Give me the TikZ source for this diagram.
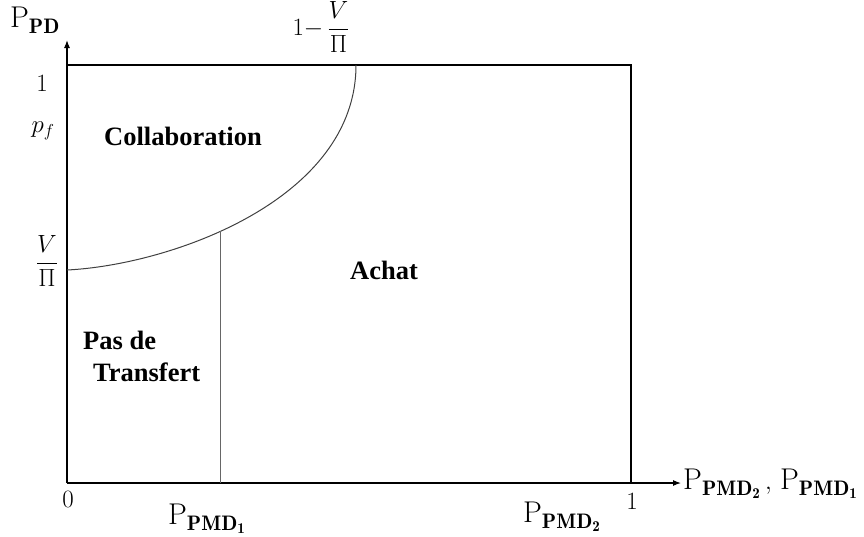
\documentclass[tikz,border=0pt]{standalone}
\usepackage{amsmath}
\usepackage{fontspec}
\newfontfamily\regionfont{Liberation Serif}
\usetikzlibrary{arrows.meta}
\begin{document}
\begin{tikzpicture}[x=1pt,y=-1pt,
  axis/.style={line width=1.1pt,-{Latex[length=8pt,width=6pt]}},
  frame/.style={line width=1.1pt},
  divider/.style={line width=1pt,draw=black!60},
  region/.style={font=\regionfont\bfseries\fontsize{26.5}{30}\selectfont,inner sep=0pt},
  ticklab/.style={font=\fontsize{25}{29}\selectfont,inner sep=0pt},
  axislab/.style={font=\fontsize{30}{34}\selectfont,inner sep=0pt}]
\useasboundingbox (0,0) rectangle (864,536);
% key points
\coordinate (O) at (67,483);
\coordinate (ytop) at (67,40);
\coordinate (xend) at (681,483);
\coordinate (TL) at (67,65);
\coordinate (TR) at (631,65);
\coordinate (BR) at (631,483);
\coordinate (cstart) at (67,270);
\coordinate (cend) at (356,65);
\coordinate (vbot) at (220,483);
\coordinate (vtop) at (220,231);
% axes
\draw[axis] (O) -- (ytop);
\draw[axis] (O) -- (xend);
% frame
\draw[frame] (TL) -- (TR) -- (BR);
% curve
\draw[line width=1pt,draw=black!75] (cstart) .. controls (170,265) and (356,200) .. (cend);
% divider
\draw[divider] (vbot) -- (vtop);
% labels
\node[axislab,anchor=center] (ppd) at (35,20) {$\mathrm{P}_{\mathbf{PD}}$};
\node[ticklab] (one-y) at (42,83) {$1$};
\node[ticklab] (pf) at (43,131) {$p_f$};
\node[ticklab] (vpi) at (47,261) {$\dfrac{V}{\Pi}$};
\node[ticklab] (top) at (321,27) {$1{-}\,\dfrac{V}{\Pi}$};
\node[ticklab] (zero) at (68,499) {$0$};
\node[ticklab] (one-x) at (632,501) {$1$};
\node[axislab] (pmd1) at (207,519) {$\mathrm{P}_{\mathbf{PMD}_{\mathbf{1}}}$};
\node[axislab] (pmd2) at (562,517) {$\mathrm{P}_{\mathbf{PMD}_{\mathbf{2}}}$};
\node[axislab,anchor=west] (xlab) at (683,484) {$\mathrm{P}_{\mathbf{PMD}_{\mathbf{2}}}\,,\,\mathrm{P}_{\mathbf{PMD}_{\mathbf{1}}}$};
\node[region] (collab) at (183,136) {Collaboration};
\node[region] (achat) at (384,270) {Achat};
\node[region,anchor=west] (pas) at (83,340) {Pas de};
\node[region,anchor=west] (transfert) at (93,372) {Transfert};
\end{tikzpicture}
\end{document}
